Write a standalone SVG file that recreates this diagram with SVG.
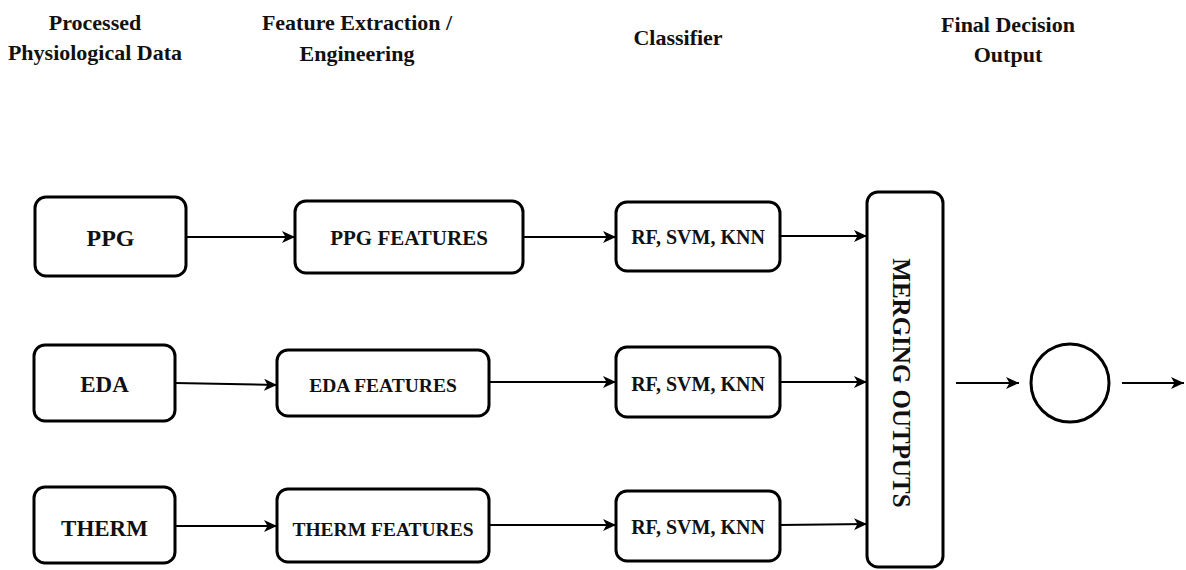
<svg xmlns="http://www.w3.org/2000/svg" width="1186" height="570" viewBox="0 0 1186 570">
<style>
.title{font-family:"Liberation Serif","Times New Roman",serif;font-weight:bold;font-size:22px;fill:#111;text-anchor:middle}
.box{fill:#fff;stroke:#000;stroke-width:3}
.lbl{font-family:"Liberation Serif","Times New Roman",serif;font-weight:bold;fill:#111;text-anchor:middle}
.big{font-size:23px}
.mid{font-size:19.5px}
.clf{font-size:20px}
.conn{stroke:#000;stroke-width:2;fill:none;marker-end:url(#arr)}
</style>
<defs>
<marker id="arr" markerUnits="userSpaceOnUse" markerWidth="14" markerHeight="12" refX="13" refY="6" orient="auto">
<path d="M0,0 L13,6 L0,12 L3.5,6 z" fill="#000"/>
</marker>
</defs>
<rect width="1186" height="570" fill="#fff"/>
<g id="titles">
<text class="title" x="95" y="30">Processed</text>
<text class="title" x="95" y="60">Physiological Data</text>
<text class="title" x="357" y="30">Feature Extraction /</text>
<text class="title" x="357" y="61">Engineering</text>
<text class="title" x="678" y="45">Classifier</text>
<text class="title" x="1008" y="32">Final Decision</text>
<text class="title" x="1008" y="62">Output</text>
</g>
<g id="connectors">
<line class="conn" x1="186" y1="237" x2="295" y2="237"/>
<line class="conn" x1="523" y1="237" x2="616" y2="237"/>
<line class="conn" x1="780" y1="236" x2="867" y2="236"/>
<line class="conn" x1="175" y1="383" x2="277" y2="385"/>
<line class="conn" x1="489" y1="382" x2="616" y2="382"/>
<line class="conn" x1="780" y1="382" x2="867" y2="382"/>
<line class="conn" x1="175" y1="526" x2="277" y2="526"/>
<line class="conn" x1="489" y1="525" x2="616" y2="525"/>
<line class="conn" x1="780" y1="525" x2="867" y2="524"/>
<line class="conn" x1="956" y1="383" x2="1019" y2="383"/>
<line class="conn" x1="1122" y1="383" x2="1184" y2="383"/>
</g>
<g id="ppg">
<rect class="box" x="35" y="197" width="151" height="79" rx="11"/>
<text class="lbl big" x="110.5" y="246" style="font-size:24px">PPG</text>
</g>
<g id="eda">
<rect class="box" x="34" y="345" width="141" height="76" rx="11"/>
<text class="lbl big" x="104.5" y="392">EDA</text>
</g>
<g id="therm">
<rect class="box" x="34" y="487" width="141" height="76" rx="11"/>
<text class="lbl big" x="104.5" y="536">THERM</text>
</g>
<g id="ppg-features">
<rect class="box" x="295" y="201" width="228" height="72" rx="11"/>
<text class="lbl mid" x="409" y="245" style="font-size:21px">PPG FEATURES</text>
</g>
<g id="eda-features">
<rect class="box" x="277" y="350" width="212" height="66" rx="11"/>
<text class="lbl mid" x="383" y="392">EDA FEATURES</text>
</g>
<g id="therm-features">
<rect class="box" x="277" y="489" width="212" height="73" rx="11"/>
<text class="lbl mid" x="383" y="536">THERM FEATURES</text>
</g>
<g id="clf-ppg">
<rect class="box" x="616" y="202" width="164" height="69" rx="11"/>
<text class="lbl clf" x="698" y="244">RF, SVM, KNN</text>
</g>
<g id="clf-eda">
<rect class="box" x="616" y="347" width="164" height="70" rx="11"/>
<text class="lbl clf" x="698" y="391">RF, SVM, KNN</text>
</g>
<g id="clf-therm">
<rect class="box" x="616" y="491" width="164" height="70" rx="11"/>
<text class="lbl clf" x="698" y="534">RF, SVM, KNN</text>
</g>
<g id="merge">
<rect class="box" x="867" y="192" width="76" height="375" rx="11"/>
<text class="lbl" transform="translate(893,383) rotate(90)" x="0" y="0" style="font-size:25px">MERGING OUTPUTS</text>
</g>
<g id="decision">
<circle cx="1070" cy="383" r="39" fill="#fff" stroke="#000" stroke-width="3"/>
</g>
</svg>
